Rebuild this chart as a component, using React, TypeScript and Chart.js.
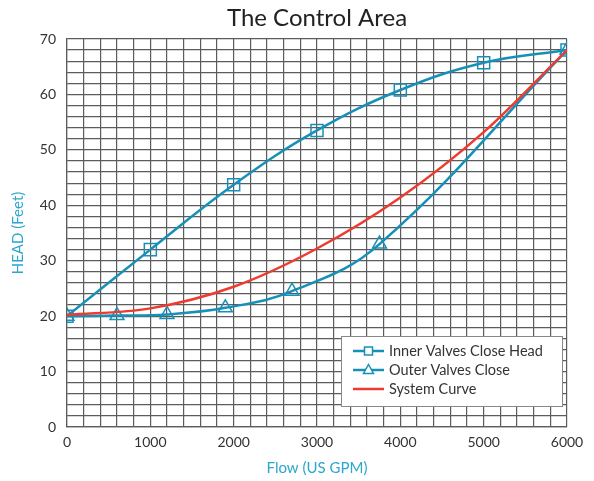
import React, { useEffect, useRef } from "react";
import { Chart, registerables } from "chart.js";

Chart.register(...registerables);

const innerFlow = [0, 1000, 2000, 3000, 4000, 5000, 6000];
const innerHead = [20, 32, 43.7, 53.5, 60.8, 65.7, 68];

const outerFlow = [0, 600, 1200, 1900, 2700, 3750, 6000];
const outerHead = [20, 20.1, 20.3, 21.5, 24.5, 33, 68];

const systemFlow = [0, 1000, 2000, 3000, 4000, 5000, 6000];
const systemHead = [20.2, 21.4, 25.3, 32.2, 41.4, 53.2, 68];

const seriesLabels = ["Inner Valves Close Head", "Outer Valves Close", "System Curve"];

const BLUE = "#1790b8";
const RED = "#ee3b2f";
const AXIS_TITLE = "#2ba6cf";
const TEXT = "#333333";
const GRID = "#5c5c5c";
const FONT = "Lato, 'Noto Sans', sans-serif";

const toXY = (xs: number[], ys: number[]) => xs.map((x, i) => ({ x, y: ys[i] }));

const legendPlugin = {
  id: "boxLegend",
  afterDraw(chart: any) {
    const ctx = chart.ctx as CanvasRenderingContext2D;
    const area = chart.chartArea;
    const boxW = 221;
    const boxH = 70;
    const bx = area.right - 5 - boxW;
    const by = area.bottom - 21 - boxH;
    ctx.save();
    ctx.fillStyle = "#ffffff";
    ctx.fillRect(bx, by, boxW, boxH);
    ctx.strokeStyle = "#888888";
    ctx.lineWidth = 1;
    ctx.strokeRect(bx + 0.5, by + 0.5, boxW, boxH);
    const rows = [by + 15, by + 34, by + 53];
    chart.data.datasets.forEach((ds: any, i: number) => {
      const y = rows[i];
      const x0 = bx + 12;
      const x1 = bx + 43;
      ctx.strokeStyle = ds.borderColor;
      ctx.lineWidth = 2.5;
      ctx.beginPath();
      ctx.moveTo(x0, y);
      ctx.lineTo(x1, y);
      ctx.stroke();
      const cx = (x0 + x1) / 2;
      ctx.lineWidth = 1.5;
      if (ds.pointStyle === "rect") {
        ctx.fillStyle = "#ffffff";
        ctx.fillRect(cx - 4, y - 4, 8, 8);
        ctx.strokeRect(cx - 4, y - 4, 8, 8);
      } else if (ds.pointStyle === "triangle") {
        ctx.beginPath();
        ctx.moveTo(cx, y - 5.5);
        ctx.lineTo(cx + 5, y + 3.5);
        ctx.lineTo(cx - 5, y + 3.5);
        ctx.closePath();
        ctx.fillStyle = "#ffffff";
        ctx.fill();
        ctx.stroke();
      }
      ctx.fillStyle = TEXT;
      ctx.font = `14.5px ${FONT}`;
      ctx.textBaseline = "middle";
      ctx.textAlign = "left";
      ctx.fillText(ds.label, bx + 48, y);
    });
    ctx.restore();
  },
};

export default function App() {
  const canvasRef = useRef<HTMLCanvasElement | null>(null);

  useEffect(() => {
    if (!canvasRef.current) return;
    const chart = new Chart(canvasRef.current, {
      type: "line",
      data: {
        datasets: [
          {
            label: seriesLabels[0],
            data: toXY(innerFlow, innerHead),
            borderColor: BLUE,
            backgroundColor: "rgba(0,0,0,0)",
            borderWidth: 2.5,
            pointStyle: "rect",
            pointRadius: 8.5,
            pointBorderWidth: 1.5,
            pointBorderColor: BLUE,
            pointBackgroundColor: "rgba(0,0,0,0)",
            tension: 0.4,
            order: 2,
          },
          {
            label: seriesLabels[1],
            data: toXY(outerFlow, outerHead),
            borderColor: BLUE,
            backgroundColor: "rgba(0,0,0,0)",
            borderWidth: 2.5,
            pointStyle: "triangle",
            pointRadius: 8,
            pointBorderWidth: 1.5,
            pointBorderColor: BLUE,
            pointBackgroundColor: "rgba(0,0,0,0)",
            tension: 0.4,
            order: 1,
          },
          {
            label: seriesLabels[2],
            data: toXY(systemFlow, systemHead),
            borderColor: RED,
            backgroundColor: "rgba(0,0,0,0)",
            borderWidth: 2.5,
            pointRadius: 0,
            pointStyle: false as any,
            cubicInterpolationMode: "monotone",
            order: 0,
          },
        ],
      },
      options: {
        responsive: false,
        animation: false,
        layout: { padding: { left: 0, right: 27, top: 0, bottom: 0 } },
        plugins: {
          legend: { display: false },
          tooltip: { enabled: false },
          title: {
            display: true,
            text: "The Control Area",
            fullSize: false,
            color: "#222222",
            font: { family: FONT, size: 24, weight: "normal" },
            padding: { top: 4, bottom: 6.2 },
          },
        },
        scales: {
          x: {
            type: "linear",
            min: 0,
            max: 6000,
            afterFit: (s: any) => {
              s.height = 54;
            },
            border: { color: GRID, width: 1.2 },
            grid: { color: GRID, lineWidth: 1.2, drawTicks: false },
            ticks: {
              stepSize: 200,
              autoSkip: false,
              maxRotation: 0,
              padding: 7,
              color: TEXT,
              font: { family: FONT, size: 14 },
              callback: (v: any) => (Number(v) % 1000 === 0 ? String(v) : ""),
            },
            title: {
              display: true,
              text: "Flow (US GPM)",
              color: AXIS_TITLE,
              font: { family: FONT, size: 15 },
              padding: { top: 0, bottom: 4 },
            },
          },
          y: {
            type: "linear",
            min: 0,
            max: 70,
            afterFit: (s: any) => {
              s.width = 67;
            },
            border: { color: GRID, width: 1.2 },
            grid: { color: GRID, lineWidth: 1.2, drawTicks: false },
            ticks: {
              stepSize: 2,
              autoSkip: false,
              padding: 11,
              color: TEXT,
              font: { family: FONT, size: 14 },
              callback: (v: any) => (Number(v) % 10 === 0 ? String(v) : ""),
            },
            title: {
              display: true,
              text: "HEAD (Feet)",
              color: AXIS_TITLE,
              font: { family: FONT, size: 15 },
              padding: { top: 9, bottom: 0 },
            },
          },
        },
      },
      plugins: [legendPlugin],
    });
    return () => chart.destroy();
  }, []);

  return (
    <div style={{ position: "absolute", left: 0, top: 0, width: 594, height: 481, background: "#fff" }}>
      <canvas ref={canvasRef} width={594} height={481} style={{ width: 594, height: 481 }} />
    </div>
  );
}
